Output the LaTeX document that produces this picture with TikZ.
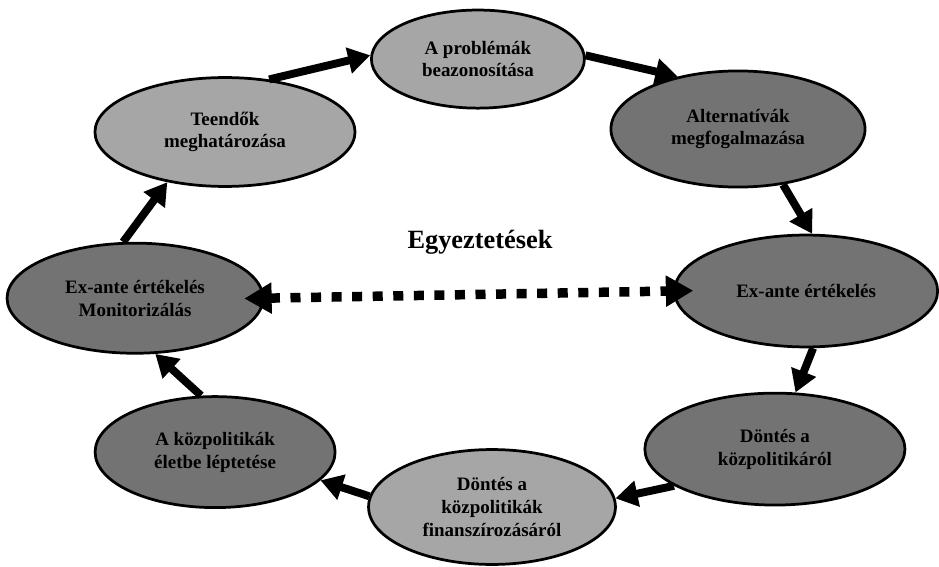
\documentclass[tikz,border=0pt]{standalone}
\usepackage{fontspec}
\setmainfont{Liberation Serif}
\usepackage{tikz}
\usetikzlibrary{positioning,arrows.meta,shapes.geometric}
\definecolor{cyclelite}{HTML}{A6A6A6}
\definecolor{cycledark}{HTML}{737373}

\begin{document}
\begin{tikzpicture}[
  lite/.style={ellipse,draw=black,line width=2.6pt,fill=cyclelite,inner sep=0pt,align=center,font=\bfseries\fontsize{18}{21.5}\selectfont},
  dark/.style={ellipse,draw=black,line width=2.6pt,fill=cycledark,inner sep=0pt,align=center,font=\bfseries\fontsize{18}{21.5}\selectfont},
  arr/.style={line width=7.5pt,-{Triangle[length=21pt,width=24pt]}},
  dotarr/.style={line width=9pt,dash pattern=on 9.5pt off 10pt,{Triangle[length=26pt,width=28pt]}-{Triangle[length=26pt,width=28pt]},shorten <=-0.67cm,shorten >=-0.67cm}
]
\useasboundingbox (0,0) rectangle (31.3,18.87);
\node[lite,minimum width=7.1cm,minimum height=3.27cm] (prob) at (15.93,16.90) {A problémák\\beazonosítása};
\node[dark,minimum width=8.47cm,minimum height=3.87cm] (alt) at (24.60,14.57) {Alternatívák\\megfogalmazása};
\node[dark,minimum width=8.77cm,minimum height=3.73cm] (exr) at (26.87,9.17) {Ex-ante értékelés};
\node[dark,minimum width=8.67cm,minimum height=3.73cm] (dk) at (25.83,3.90) {Döntés a\\közpolitikáról};
\node[lite,minimum width=8.23cm,minimum height=3.83cm] (fin) at (16.40,1.97) {Döntés a\\közpolitikák\\finanszírozásáról};
\node[dark,minimum width=8.0cm,minimum height=3.70cm] (el) at (7.17,3.80) {A közpolitikák\\életbe léptetése};
\node[dark,minimum width=8.53cm,minimum height=3.67cm] (exl) at (4.50,8.93) {Ex-ante értékelés\\Monitorizálás};
\node[lite,minimum width=8.67cm,minimum height=3.63cm] (teendok) at (7.50,14.47) {Teendők\\meghatározása};
\node[font=\bfseries\fontsize{25}{30}\selectfont] (egy) at (16.0,10.80) {Egyeztetések};
% the cycle
\draw[arr] (teendok.50) -- (prob.178);
\draw[arr] (prob.2) -- (alt.139);
\draw[arr] (alt.-51) -- (exr.84);
\draw[arr] (exr.-83) -- (dk.70);
\draw[arr] (dk.200) -- (fin.4);
\draw[arr] (fin.175) -- (el.-15);
\draw[arr] (el.104) -- (exl.-70);
\draw[arr] (exl.102) -- (teendok.221);
\draw[dotarr] (exl.east) -- (exr.west);
\end{tikzpicture}
\end{document}
